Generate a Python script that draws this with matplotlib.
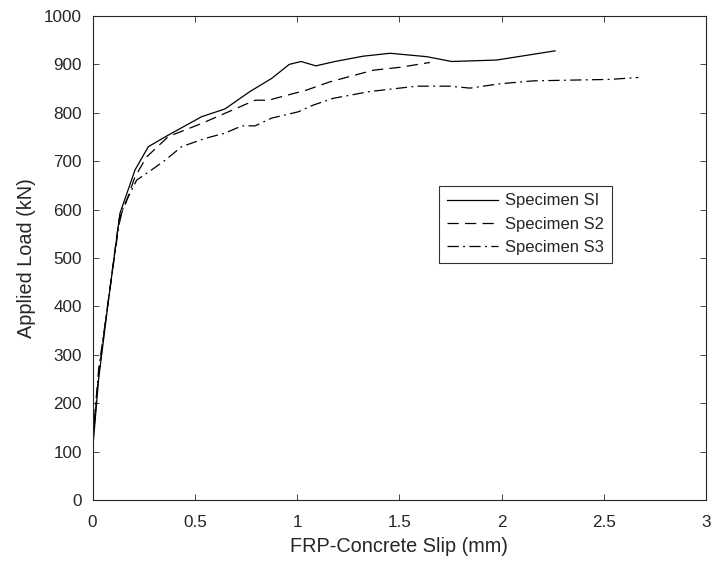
import matplotlib
matplotlib.use("Agg")
import matplotlib.pyplot as plt

plt.rcParams['font.family'] = ['Liberation Sans', 'DejaVu Sans']

s1_x = [0.0, 0.03, 0.074, 0.134, 0.208, 0.273, 0.371, 0.534, 0.648, 0.770, 0.876, 0.962, 1.02, 1.092, 1.186, 1.324, 1.455, 1.634, 1.756, 1.976, 2.262]
s1_y = [100, 250, 399, 592, 682, 730, 754, 792, 808, 844, 871, 900, 906, 897, 906, 917, 923, 916, 906, 909, 928]

s2_x = [0.0, 0.03, 0.075, 0.13, 0.16, 0.208, 0.265, 0.371, 0.534, 0.648, 0.795, 0.86, 1.047, 1.161, 1.373, 1.504, 1.650]
s2_y = [110, 260, 405, 580, 610, 668, 709, 751, 778, 799, 826, 826, 847, 864, 888, 894, 904]

s3_x = [0.0, 0.03, 0.08, 0.13, 0.151, 0.216, 0.289, 0.355, 0.436, 0.550, 0.648, 0.730, 0.795, 0.876, 1.006, 1.08, 1.178, 1.357, 1.585, 1.748, 1.846, 1.993, 2.156, 2.40, 2.531, 2.669]
s3_y = [120, 270, 420, 570, 606, 661, 682, 702, 730, 747, 758, 773, 773, 789, 802, 816, 830, 844, 855, 855, 851, 860, 866, 868, 869, 873]

labels = ['Specimen SI', 'Specimen S2', 'Specimen S3']
x_ticks = [0, 0.5, 1, 1.5, 2, 2.5, 3]
x_ticklabels = ['0', '0.5', '1', '1.5', '2', '2.5', '3']
y_ticks = list(range(0, 1001, 100))

fig = plt.figure(figsize=(7.13, 5.62), dpi=100)
ax = fig.add_axes([92.5/713, 62/562, (706-92.5)/713, (500-16)/562])

axc = '0.15'
ax.plot(s1_x, s1_y, color='k', lw=0.9, linestyle='-', label=labels[0])
ax.plot(s2_x, s2_y, color='k', lw=0.9, linestyle=(0, (9, 5)), label=labels[1])
ax.plot(s3_x, s3_y, color='k', lw=0.9, linestyle=(0, (9, 3.5, 1.5, 3.5)), label=labels[2])

ax.set_xlim(0, 3)
ax.set_ylim(0, 1000)
ax.set_xticks(x_ticks)
ax.set_xticklabels(x_ticklabels)
ax.set_yticks(y_ticks)
ax.tick_params(direction='in', top=True, right=True, length=4, width=0.6,
               colors=axc, labelsize=12.3)
ax.tick_params(axis='x', pad=11)
ax.tick_params(axis='y', pad=7.5)
for sp in ax.spines.values():
    sp.set_color(axc)
    sp.set_linewidth(0.8)

ax.set_xlabel('FRP-Concrete Slip (mm)', fontsize=14.3, color=axc, labelpad=5)
ax.set_ylabel('Applied Load (kN)', fontsize=14.3, color=axc, labelpad=6)

leg = ax.legend(loc='upper left', bbox_to_anchor=((439.3-92.5)/613.5, (500-186)/484),
                fontsize=12.0,
                frameon=True, fancybox=False, framealpha=1, edgecolor='0.2',
                handlelength=3.1, handletextpad=0.4, borderpad=0.45,
                labelspacing=0.5, borderaxespad=0)
leg.get_frame().set_linewidth(0.8)
for t in leg.get_texts():
    t.set_color(axc)

fig.savefig('out.png', dpi=100)
